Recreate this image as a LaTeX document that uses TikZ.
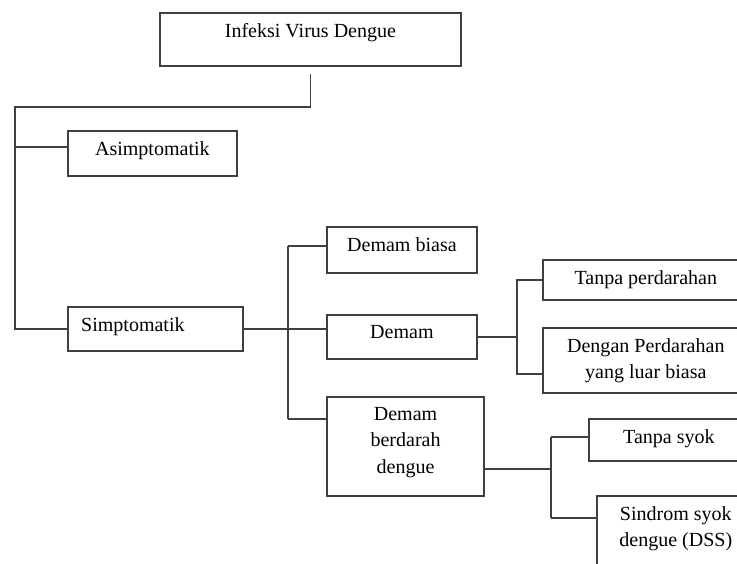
\documentclass[tikz,border=0pt]{standalone}
\usepackage{fontspec}
\setmainfont{Liberation Serif}
\begin{document}
\begin{tikzpicture}[
    box/.style={draw=black!75, line width=1.8pt, inner sep=0pt},
    txt/.style={anchor=north, inner sep=0pt, yshift=-0.37cm, align=center, font=\fontsize{19}{25}\selectfont},
    con/.style={draw=black!75, line width=1.8pt}
  ]
       \useasboundingbox (0,0) rectangle (24.57,-18.77);
       \node[box, minimum width=10.03cm, minimum height=1.77cm, label={[txt]north:Infeksi Virus Dengue}] (infeksi) at (10.35,-1.32) {};
       \node[box, minimum width=5.63cm, minimum height=1.48cm, label={[txt]north:Asimptomatik}] (asimp) at (5.08,-5.12) {};
       \node[box, minimum width=5.83cm, minimum height=1.47cm, label={[txt, xshift=-0.75cm]north:Simptomatik}] (simp) at (5.18,-10.97) {};
       \node[box, minimum width=5cm, minimum height=1.53cm, label={[txt]north:Demam biasa}] (biasa) at (13.4,-8.33) {};
       \node[box, minimum width=5cm, minimum height=1.47cm, label={[txt]north:Demam}] (demam) at (13.4,-11.23) {};
       \node[box, minimum width=5.23cm, minimum height=3.3cm, label={[txt]north:Demam\\berdarah\\dengue}] (dbd) at (13.52,-14.88) {};
       \node[box, minimum width=6.87cm, minimum height=1.33cm, label={[txt]north:Tanpa perdarahan}] (tanpa) at (21.53,-9.33) {};
       \node[box, minimum width=6.87cm, minimum height=2.17cm, label={[txt]north:Dengan Perdarahan\\yang luar biasa}] (dengan) at (21.53,-12.02) {};
       \node[box, minimum width=5.33cm, minimum height=1.4cm, label={[txt]north:Tanpa syok}] (tsyok) at (22.3,-14.67) {};
       \node[box, minimum width=5.27cm, minimum height=3.33cm, label={[txt]north:Sindrom syok\\dengue (DSS)}] (dss) at (22.53,-18.2) {};
       \coordinate (trunk) at (0.5,-3.57);
       \coordinate (fa) at (9.6,-8.2);
       \coordinate (fb) at (9.6,-13.97);
       \coordinate (fc) at (17.23,-9.3);
       \coordinate (fd) at (17.23,-12.47);
       \coordinate (fe) at (18.37,-14.57);
       \coordinate (ff) at (18.37,-17.27);
       \coordinate (fg) at (18.37,-15.63);
       \draw[con] ([yshift=-0.23cm]infeksi.south) |- (trunk) |- (simp.west);
       \draw[con] ([yshift=0.22cm]asimp.west) -| (trunk);
       \draw[con] (fa) -- (fb);
       \draw[con] (fa) -- (fa -| biasa.west);
       \draw[con] (fb) -- (fb -| dbd.west);
       \draw[con] (simp.east) -- (simp.east -| demam.west);
       \draw[con] (demam.east) -- (demam.east -| fc);
       \draw[con] (tanpa.west) -| (fd) -- (fd -| dengan.west);
       \draw[con] (fe) -- (ff);
       \draw[con] (fe) -- (fe -| tsyok.west);
       \draw[con] (ff) -- (ff -| dss.west);
       \draw[con] (fg -| dbd.east) -- (fg);
     \end{tikzpicture}
\end{document}
